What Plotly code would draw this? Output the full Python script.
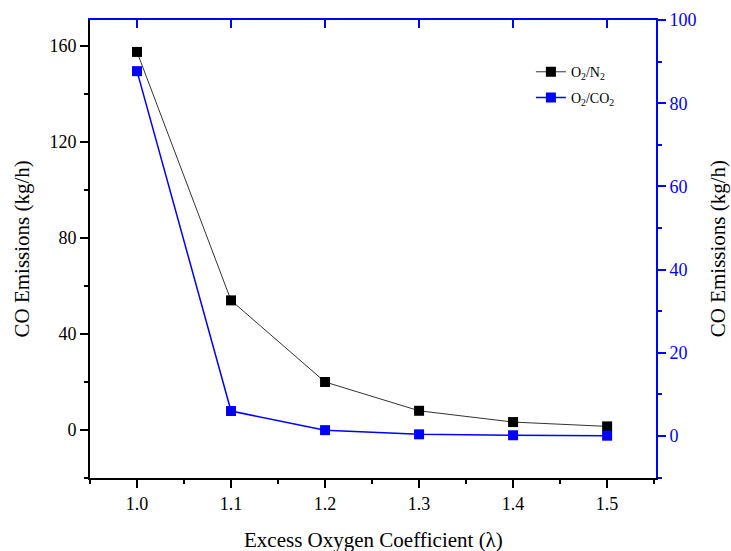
import plotly.graph_objects as go

x = [1.0, 1.1, 1.2, 1.3, 1.4, 1.5]
co_n2 = [157.5, 54.0, 20.0, 8.0, 3.3, 1.5]
co_co2 = [87.7, 6.0, 1.4, 0.4, 0.17, 0.07]

FONT = "Liberation Serif"
BLUE = "#0000FF"

fig = go.Figure()
fig.add_trace(go.Scatter(
    x=x, y=co_n2, name="O<sub>2</sub>/N<sub>2</sub>", mode="lines+markers",
    line=dict(color="#333333", width=1),
    marker=dict(symbol="square", size=10, color="black"),
    yaxis="y", legend="legend"))
fig.add_trace(go.Scatter(
    x=x, y=co_co2, name="O<sub>2</sub>/CO<sub>2</sub>", mode="lines+markers",
    line=dict(color=BLUE, width=1.5),
    marker=dict(symbol="square", size=10, color=BLUE),
    yaxis="y2", legend="legend2"))
fig.add_trace(go.Scatter(x=[1.0], y=[0], xaxis="x2", yaxis="y", mode="markers",
                         marker=dict(opacity=0), showlegend=False, hoverinfo="skip"))

TICKFONT = dict(family=FONT, size=18, color="black")
LEGFONT = dict(size=14, family=FONT, color="black")

fig.update_layout(
    width=731, height=551,
    margin=dict(l=90, r=75, t=20, b=73, autoexpand=False),
    plot_bgcolor="white", paper_bgcolor="white",
    font=dict(family=FONT, size=18, color="black"),
    showlegend=True,
    legend=dict(x=0.779, y=0.921, xanchor="left", yanchor="top",
                bgcolor="rgba(0,0,0,0)", font=LEGFONT),
    legend2=dict(x=0.779, y=0.865, xanchor="left", yanchor="top",
                 bgcolor="rgba(0,0,0,0)", font=LEGFONT),
    xaxis=dict(
        range=[0.95, 1.552], tickvals=[1.0, 1.1, 1.2, 1.3, 1.4, 1.5],
        ticktext=["1.0", "1.1", "1.2", "1.3", "1.4", "1.5"], tickfont=TICKFONT,
        automargin=False,
        showgrid=False, zeroline=False, showline=True, linecolor="black", linewidth=2,
        ticks="outside", ticklen=8, tickwidth=2, tickcolor="black",
        minor=dict(ticks="outside", ticklen=4, tickwidth=2, dtick=0.05, tick0=0.95, tickcolor="black"),
    ),
    xaxis2=dict(
        overlaying="x", side="top", range=[0.95, 1.552], automargin=False,
        tickvals=[1.0, 1.1, 1.2, 1.3, 1.4, 1.5], showticklabels=False,
        showgrid=False, zeroline=False, showline=True, linecolor=BLUE, linewidth=2,
        ticks="inside", ticklen=8, tickwidth=2, tickcolor=BLUE,
    ),
    yaxis=dict(
        range=[-20, 170.8], tickvals=[0, 40, 80, 120, 160], tickfont=TICKFONT,
        automargin=False,
        showgrid=False, zeroline=False, showline=True, linecolor="black", linewidth=2,
        ticks="outside", ticklen=8, tickwidth=2, tickcolor="black",
        minor=dict(ticks="outside", ticklen=4, tickwidth=2, tickvals=[-20, 20, 60, 100, 140], tickcolor="black"),
    ),
    yaxis2=dict(
        overlaying="y", side="right", range=[-10.1, 100], automargin=False,
        tickvals=[0, 20, 40, 60, 80, 100],
        tickfont=dict(family=FONT, size=18, color=BLUE),
        showgrid=False, zeroline=False, showline=True, linecolor=BLUE, linewidth=2,
        ticks="outside", ticklen=8, tickwidth=2, tickcolor=BLUE,
        minor=dict(ticks="outside", ticklen=4, tickwidth=2, tickvals=[-10, 10, 30, 50, 70, 90], tickcolor=BLUE),
    ),
    annotations=[
        dict(text="Excess Oxygen Coefficient (λ)", xref="paper", yref="paper",
             x=0.5, y=-0.105, xanchor="center", yanchor="top", showarrow=False,
             font=dict(family=FONT, size=21, color="black")),
        dict(text="CO Emissions (kg/h)", xref="paper", yref="paper",
             x=-0.121, y=0.5, xanchor="center", yanchor="middle", textangle=-90,
             showarrow=False, font=dict(family=FONT, size=21, color="black")),
        dict(text="CO Emissions (kg/h)", xref="paper", yref="paper",
             x=1.11, y=0.5, xanchor="center", yanchor="middle", textangle=-90,
             showarrow=False, font=dict(family=FONT, size=21, color="black")),
    ],
)

fig.write_html("out.html", config={"displayModeBar": False},
               post_script="document.body.style.margin='0';document.body.style.overflow='hidden';")
